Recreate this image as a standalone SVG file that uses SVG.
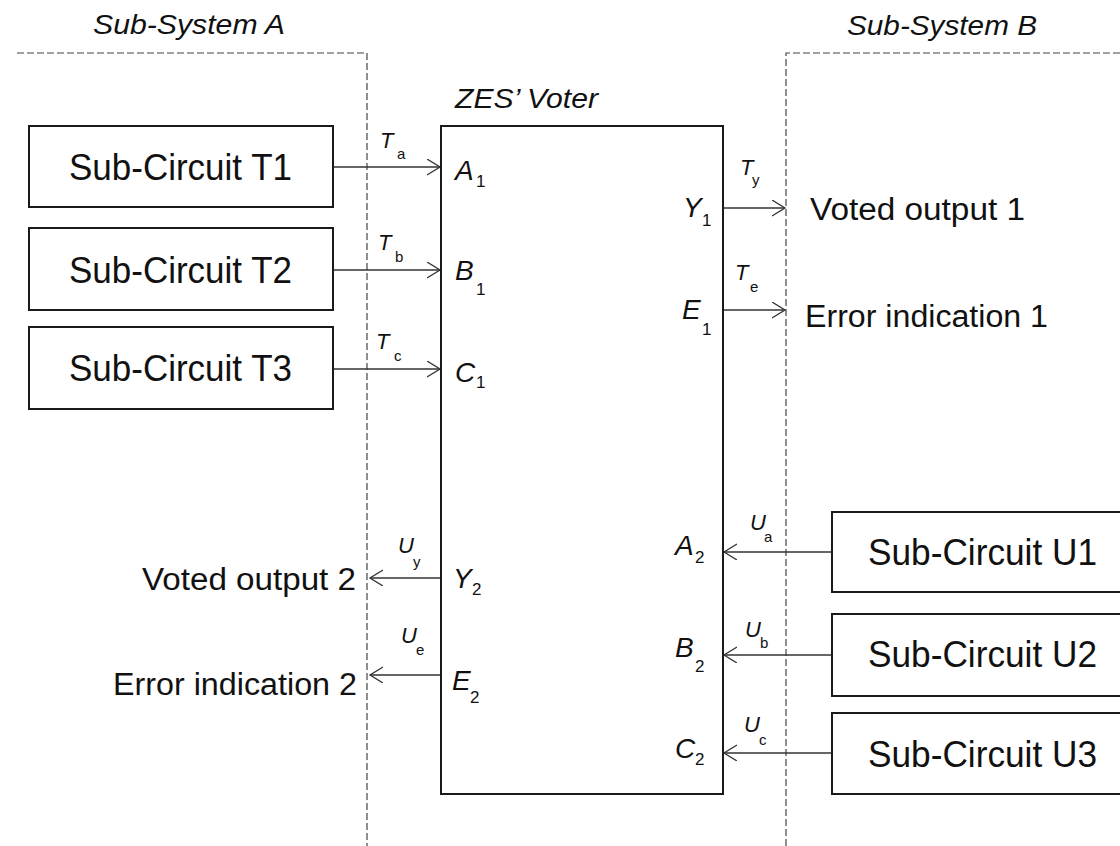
<svg xmlns="http://www.w3.org/2000/svg" width="1120" height="846" viewBox="0 0 1120 846">
<style>
.box{fill:#fff;stroke:#1a1a1a;stroke-width:2}
.dash{fill:none;stroke:#444;stroke-width:1.2;stroke-dasharray:7 3}
.conn{stroke:#333;stroke-width:1.3;fill:none}
.big{font-family:"Liberation Sans",Arial,sans-serif;font-size:37px;fill:#111}
.out{font-family:"Liberation Sans",Arial,sans-serif;font-size:31px;fill:#111}
.title{font-family:"Liberation Sans",Arial,sans-serif;font-size:27px;font-style:italic;fill:#111}
.port{font-family:"Liberation Sans",Arial,sans-serif;font-size:28px;font-style:italic;fill:#111}
.psub{font-family:"Liberation Sans",Arial,sans-serif;font-size:17px;font-style:normal;fill:#111}
.sig{font-family:"Liberation Sans",Arial,sans-serif;font-size:22px;font-style:italic;fill:#111}
.ssub{font-family:"Liberation Sans",Arial,sans-serif;font-size:15px;font-style:normal;fill:#111}
</style>
<defs>
<marker id="arr" markerUnits="userSpaceOnUse" markerWidth="16" markerHeight="18" refX="13" refY="8" orient="auto">
<path d="M0,0 L13,8 L0,16" fill="none" stroke="#333" stroke-width="1.3"/>
</marker>
</defs>
<rect width="1120" height="846" fill="#fff"/>

<g id="subsystem-a">
<path class="dash" d="M17,53 H367 V846"/>
<text class="title" x="93" y="34" textLength="192" lengthAdjust="spacingAndGlyphs">Sub-System A</text>
</g>
<g id="subsystem-b">
<path class="dash" d="M1120,53 H786 V846"/>
<text class="title" x="847" y="35" textLength="190" lengthAdjust="spacingAndGlyphs">Sub-System B</text>
</g>

<g id="connectors">
<line class="conn" x1="333" y1="167" x2="440" y2="167" marker-end="url(#arr)"/>
<line class="conn" x1="333" y1="270" x2="440" y2="270" marker-end="url(#arr)"/>
<line class="conn" x1="333" y1="369" x2="440" y2="369" marker-end="url(#arr)"/>
<line class="conn" x1="723" y1="208" x2="785" y2="208" marker-end="url(#arr)"/>
<line class="conn" x1="723" y1="310" x2="785" y2="310" marker-end="url(#arr)"/>
<line class="conn" x1="441" y1="578" x2="370" y2="578" marker-end="url(#arr)"/>
<line class="conn" x1="441" y1="675" x2="370" y2="675" marker-end="url(#arr)"/>
<line class="conn" x1="832" y1="552" x2="724" y2="552" marker-end="url(#arr)"/>
<line class="conn" x1="832" y1="655" x2="724" y2="655" marker-end="url(#arr)"/>
<line class="conn" x1="832" y1="753" x2="724" y2="753" marker-end="url(#arr)"/>
<text class="sig" x="380" y="148">T</text><text class="ssub" x="397" y="159">a</text>
<text class="sig" x="378" y="250">T</text><text class="ssub" x="395" y="262">b</text>
<text class="sig" x="376" y="349">T</text><text class="ssub" x="394" y="361">c</text>
<text class="sig" x="740" y="175">T</text><text class="ssub" x="752" y="185">y</text>
<text class="sig" x="735" y="280">T</text><text class="ssub" x="750" y="292">e</text>
<text class="sig" x="398" y="553">U</text><text class="ssub" x="413" y="567">y</text>
<text class="sig" x="401" y="643">U</text><text class="ssub" x="416" y="655">e</text>
<text class="sig" x="750" y="530">U</text><text class="ssub" x="764" y="542">a</text>
<text class="sig" x="745" y="637">U</text><text class="ssub" x="760" y="648">b</text>
<text class="sig" x="744" y="732">U</text><text class="ssub" x="759" y="745">c</text>
<text class="out" x="810" y="220" textLength="215" lengthAdjust="spacingAndGlyphs">Voted output 1</text>
<text class="out" x="805" y="327" textLength="243" lengthAdjust="spacingAndGlyphs">Error indication 1</text>
<text class="out" x="142" y="590" textLength="214" lengthAdjust="spacingAndGlyphs">Voted output 2</text>
<text class="out" x="113" y="695" textLength="244" lengthAdjust="spacingAndGlyphs">Error indication 2</text>
</g>

<g id="t1"><rect class="box" x="29" y="126" width="304" height="81"/><text class="big" x="69" y="180" textLength="223" lengthAdjust="spacingAndGlyphs">Sub-Circuit T1</text></g>
<g id="t2"><rect class="box" x="29" y="228" width="304" height="82"/><text class="big" x="69" y="283" textLength="223" lengthAdjust="spacingAndGlyphs">Sub-Circuit T2</text></g>
<g id="t3"><rect class="box" x="29" y="327" width="304" height="82"/><text class="big" x="69" y="381" textLength="223" lengthAdjust="spacingAndGlyphs">Sub-Circuit T3</text></g>

<g id="u1"><rect class="box" x="832" y="512" width="300" height="80"/><text class="big" x="868" y="565" textLength="229" lengthAdjust="spacingAndGlyphs">Sub-Circuit U1</text></g>
<g id="u2"><rect class="box" x="832" y="614" width="300" height="82"/><text class="big" x="868" y="667" textLength="229" lengthAdjust="spacingAndGlyphs">Sub-Circuit U2</text></g>
<g id="u3"><rect class="box" x="832" y="713" width="300" height="81"/><text class="big" x="868" y="767" textLength="229" lengthAdjust="spacingAndGlyphs">Sub-Circuit U3</text></g>

<g id="voter">
<rect class="box" x="441" y="126" width="282" height="668"/>
<text class="title" x="455" y="108" textLength="143" lengthAdjust="spacingAndGlyphs">ZES’ Voter</text>
<text class="port" x="455" y="180">A</text><text class="psub" x="476" y="187">1</text>
<text class="port" x="455" y="280">B</text><text class="psub" x="476" y="295">1</text>
<text class="port" x="455" y="382">C</text><text class="psub" x="476" y="388">1</text>
<text class="port" x="683" y="217">Y</text><text class="psub" x="702" y="226">1</text>
<text class="port" x="682" y="319">E</text><text class="psub" x="702" y="335">1</text>
<text class="port" x="453" y="588">Y</text><text class="psub" x="472" y="595">2</text>
<text class="port" x="452" y="690">E</text><text class="psub" x="470" y="703">2</text>
<text class="port" x="675" y="555">A</text><text class="psub" x="695" y="563">2</text>
<text class="port" x="675" y="657">B</text><text class="psub" x="695" y="672">2</text>
<text class="port" x="675" y="758">C</text><text class="psub" x="695" y="765">2</text>
</g>
</svg>
